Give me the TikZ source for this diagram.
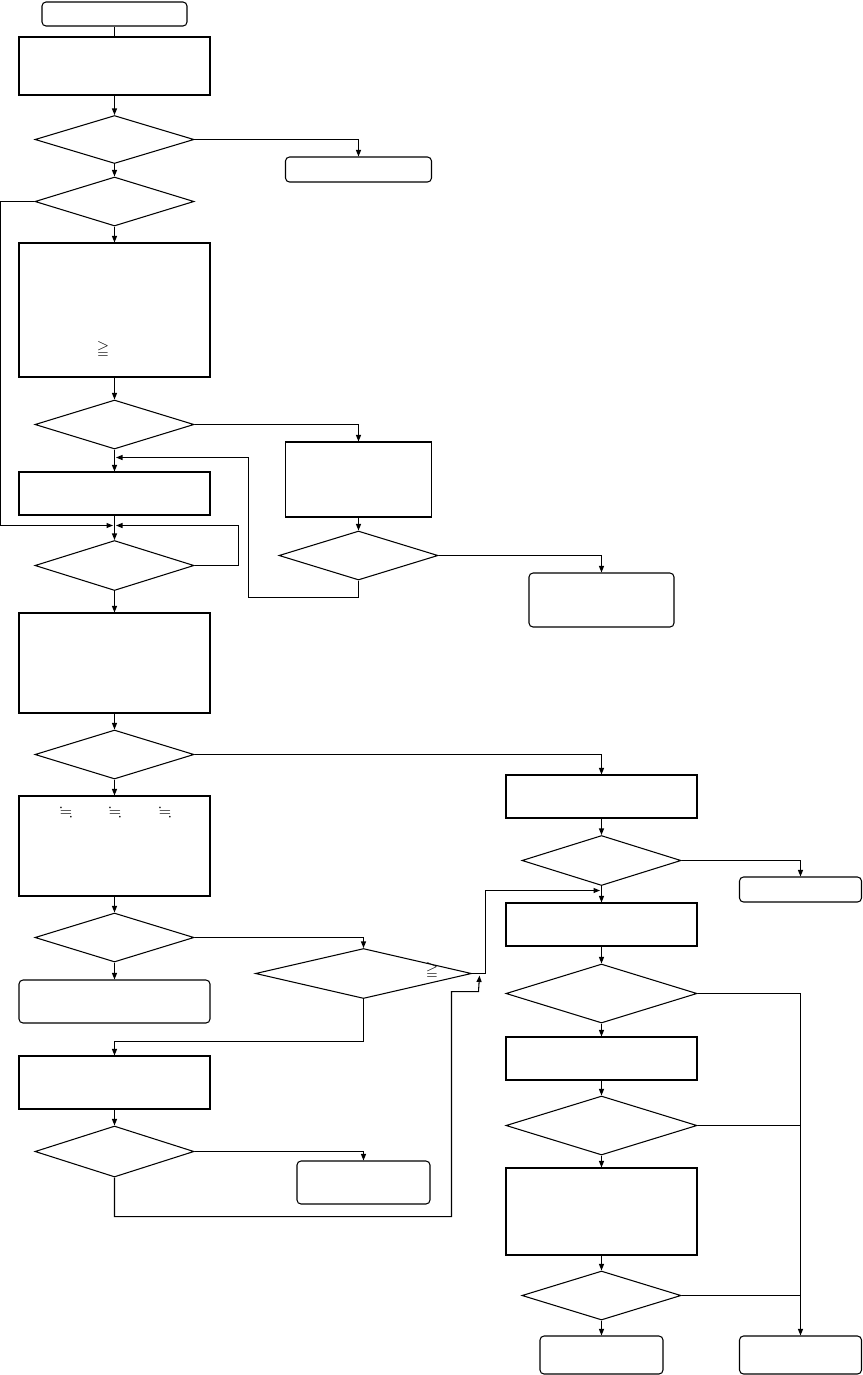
\documentclass[tikz,border=0pt]{standalone}
\usepackage{amssymb}
\usetikzlibrary{arrows.meta}
\usetikzlibrary{positioning}
\usetikzlibrary{shapes.geometric}

\tikzset{
  base/.style={draw, line width=0.6pt, inner sep=0pt},
  procbox/.style 2 args={base, rectangle, minimum width=#1*0.2mm, minimum height=#2*0.2mm},
  termbox/.style 2 args={procbox={#1}{#2}, rounded corners=0.8mm},
  decision/.style 2 args={base, diamond, minimum width=#1*0.2mm, minimum height=#2*0.2mm},
  line/.style={draw, line width=0.6pt},
  arrow/.style={line, -{Triangle[length=1.3mm,width=1mm]}},
  sym/.style={font=\fontsize{9}{10}\selectfont, inner sep=0pt}
}

\begin{document}
\begin{tikzpicture}[x=0.2mm, y=-0.2mm]
  \useasboundingbox (0,0) rectangle (862,1375);

  % left column
  \node[termbox={145}{24}] (start) at (114.5,14) {};
  \node[procbox={191}{58}] (init) at (114.5,66) {};
  \node[decision={159}{48}] (chkA) at (114.5,139.5) {};
  \node[termbox={146}{25}] (endA) at (358.5,169.5) {};
  \node[decision={159}{49}] (chkB) at (114.5,201.5) {};
  \node[procbox={191}{134}] (setup) at (114.5,310) {};
  \node[sym] (geqA) at (103,350) {$\geqq$};
  \node[decision={159}{49}] (chkC) at (114.5,424.5) {};
  \node[procbox={191}{43}] (wait) at (114.5,493.5) {};
  \node[decision={159}{50}] (chkE) at (114.5,565.5) {};
  \node[procbox={191}{100}] (measure) at (114.5,663) {};
  \node[decision={159}{49}] (chkF) at (114.5,754.5) {};
  \node[procbox={191}{100}] (calc) at (114.5,846) {};
  \foreach \px/\nm in {66/a,115/b,165/c}
    \node[sym] (approx\nm) at (\px,813) {$\fallingdotseq$};
  \node[decision={159}{49}] (chkG) at (114.5,937.5) {};
  \node[termbox={191}{43}] (endF) at (114.5,1001.5) {};
  \node[procbox={191}{53}] (redo) at (114.5,1082.5) {};
  \node[decision={159}{51}] (chkI) at (114.5,1151.5) {};

  % middle column
  \node[procbox={146}{75}] (retry) at (358.5,479.5) {};
  \node[decision={159}{49}] (chkD) at (358.5,555.5) {};
  \node[decision={216}{50}] (chkH) at (363.5,973.5) {};
  \node[sym] (geqB) at (432,971) {$\geqq$};
  \node[termbox={133}{43}] (endG) at (363.5,1182.5) {};

  % right column
  \node[termbox={145}{54}] (endB) at (601.5,600) {};
  \node[procbox={191}{43}] (adjR) at (601.5,796.5) {};
  \node[decision={159}{50}] (chkR1) at (601.5,860.5) {};
  \node[termbox={122}{25}] (endC) at (800.5,889.5) {};
  \node[procbox={191}{43}] (stepR2) at (601.5,924.5) {};
  \node[decision={191}{59}] (chkR2) at (601.5,993.5) {};
  \node[procbox={191}{43}] (stepR3) at (601.5,1058.5) {};
  \node[decision={191}{59}] (chkR3) at (601.5,1125.5) {};
  \node[procbox={191}{87}] (stepR4) at (601.5,1211.5) {};
  \node[decision={159}{49}] (chkR4) at (601.5,1295.5) {};
  \node[termbox={123}{38}] (endD) at (601.5,1355) {};
  \node[termbox={122}{38}] (endE) at (800.5,1355) {};

  % junctions
  \coordinate (joinC) at (114.5,457.5);
  \coordinate (joinE) at (114.5,525.5);
  \coordinate (joinR) at (601.5,890.5);
  \coordinate (hookH) at (479.5,975.5);

  % connectors
  \draw[line] (start) -- (init);
  \draw[arrow] (init) -- (chkA);
  \draw[arrow] (chkA.east) -| (endA.north);
  \draw[arrow] (chkA) -- (chkB);
  \draw[arrow, shorten >=0.3mm] (chkB.west) -- ++(-34,0) |- (joinE);
  \draw[arrow] (chkB) -- (setup);
  \draw[arrow] (setup) -- (chkC);
  \draw[arrow] (chkC.east) -| (retry.north);
  \draw[arrow] (chkC) -- (wait);
  \draw[arrow] (retry) -- (chkD);
  \draw[arrow] (chkD.east) -| (endB.north);
  \draw[arrow, shorten >=0.3mm] (chkD.south) |- ++(-110,17) |- (joinC);
  \draw[arrow] (wait) -- (chkE);
  \draw[arrow, shorten >=0.3mm] (chkE.east) -- ++(44,0) |- (joinE);
  \draw[arrow] (chkE) -- (measure);
  \draw[arrow] (measure) -- (chkF);
  \draw[arrow] (chkF.east) -| (adjR.north);
  \draw[arrow] (chkF) -- (calc);
  \draw[arrow] (calc) -- (chkG);
  \draw[arrow] (chkG.east) -| (chkH.north);
  \draw[arrow] (chkG) -- (endF);
  \draw[arrow] (chkH.south) -- ++(0,42) -| (redo.north);
  \draw[arrow] (redo) -- (chkI);
  \draw[arrow] (chkI.east) -| (endG.north);
  \draw[arrow] (chkI.south) |- ++(337,39) |- ++(27,-225) -- (hookH);
  \draw[arrow, shorten >=0.3mm] (chkH.east) -- ++(13,0) |- (joinR);
  \draw[arrow] (adjR) -- (chkR1);
  \draw[arrow] (chkR1.east) -| (endC.north);
  \draw[arrow] (chkR1) -- (stepR2);
  \draw[arrow] (stepR2) -- (chkR2);
  \draw[arrow] (chkR2.east) -| (endE.north);
  \draw[arrow] (chkR2) -- (stepR3);
  \draw[arrow] (stepR3) -- (chkR3);
  \draw[line] (chkR3.east) -- (chkR3.east -| endE);
  \draw[arrow] (chkR3) -- (stepR4);
  \draw[arrow] (stepR4) -- (chkR4);
  \draw[line] (chkR4.east) -- (chkR4.east -| endE);
  \draw[arrow] (chkR4) -- (endD);
\end{tikzpicture}
\end{document}
